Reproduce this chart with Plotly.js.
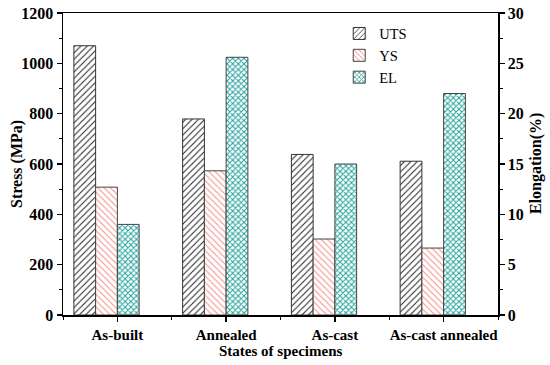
<!DOCTYPE html>
<html>
<head>
<meta charset="utf-8">
<script src="https://cdn.plot.ly/plotly-3.0.1.min.js"></script>
<style>html,body{margin:0;padding:0;background:#fff;}#chart{width:550px;height:365px;}</style>
</head>
<body>
<div id="chart"></div>
<script>
const categories = ["As-built", "Annealed", "As-cast", "As-cast annealed"];
const utsValues = [1070, 779, 638, 611];
const ysValues = [508, 573, 302, 266];
const elValues = [9.0, 25.6, 15.0, 22.0];
const leftTitle = "Stress (MPa)";
const rightTitle = "Elongation(%)";
const xTitle = "States of specimens";

const xIdx = categories.map((c, i) => i);
const fam = "Liberation Serif, Times New Roman, serif";
const legendFont = {family: fam, size: 14.5, color: "#000"};
const tickFont = {family: fam, size: 16, color: "#000", weight: "bold"};
const catFont = {family: fam, size: 15, color: "#000", weight: "bold"};
const titleFont = {family: fam, size: 16, color: "#000", weight: "bold"};

const traces = [
  {type: "bar", name: "UTS", x: xIdx, y: utsValues, width: 0.2, offset: -0.4,
   marker: {color: "#fff", line: {color: "#333", width: 1},
            pattern: {shape: "/", fgcolor: "#222", bgcolor: "#fff", size: 4.5, solidity: 0.22}}},
  {type: "bar", name: "YS", x: xIdx, y: ysValues, width: 0.2, offset: -0.2,
   marker: {color: "#fff", line: {color: "#444", width: 1},
            pattern: {shape: "\\", fgcolor: "#f5958f", bgcolor: "#fff", size: 4.5, solidity: 0.25}}},
  {type: "bar", name: "EL", x: xIdx, y: elValues, width: 0.2, offset: 0, yaxis: "y2",
   marker: {color: "#fff", line: {color: "#444", width: 1},
            pattern: {shape: "x", fgcolor: "#26a39d", bgcolor: "#fff", size: 4, solidity: 0.45}}}
];

const layout = {
  width: 550, height: 365,
  margin: {l: 63, r: 52, t: 13, b: 50},
  paper_bgcolor: "#fff", plot_bgcolor: "#fff",
  barmode: "overlay",
  showlegend: true,
  legend: {x: 0.635, y: 0.985, xanchor: "left", yanchor: "top", bgcolor: "rgba(0,0,0,0)",
           font: legendFont, tracegroupgap: 0, itemwidth: 30},
  xaxis: {range: [-0.5, 3.5], tickvals: xIdx, ticktext: categories, showgrid: false, zeroline: false,
          showline: true, linecolor: "#000", linewidth: 1.5, mirror: true,
          ticks: "outside", ticklen: 5, tickwidth: 1.5, tickcolor: "#000",
          minor: {dtick: 0.5, tick0: -0.5, ticks: "outside", ticklen: 3, tickwidth: 1, tickcolor: "#000"},
          tickfont: catFont},
  yaxis: {range: [0, 1200], dtick: 200, showgrid: false, zeroline: false,
          showline: true, linecolor: "#000", linewidth: 1.5,
          ticks: "outside", ticklen: 5, tickwidth: 1.5, tickcolor: "#000",
          minor: {dtick: 100, ticks: "outside", ticklen: 3, tickwidth: 1, tickcolor: "#000"},
          tickfont: tickFont},
  yaxis2: {range: [0, 30], dtick: 5, overlaying: "y", side: "right", showgrid: false, zeroline: false,
           showline: true, linecolor: "#000", linewidth: 1.5,
           ticks: "outside", ticklen: 5, tickwidth: 1.5, tickcolor: "#000",
           minor: {dtick: 2.5, ticks: "outside", ticklen: 3, tickwidth: 1, tickcolor: "#000"},
           tickfont: tickFont},
  annotations: [
    {text: leftTitle, xref: "paper", yref: "paper", x: 0, y: 0.5, xshift: -46, textangle: -90,
     xanchor: "center", yanchor: "middle", showarrow: false, font: titleFont},
    {text: rightTitle, xref: "paper", yref: "paper", x: 1, y: 0.5, xshift: 38, textangle: -90,
     xanchor: "center", yanchor: "middle", showarrow: false, font: titleFont},
    {text: xTitle, xref: "paper", yref: "paper", x: 0.5, y: 0, yshift: -36,
     xanchor: "center", yanchor: "middle", showarrow: false, font: catFont}
  ]
};

Plotly.newPlot("chart", traces, layout, {displayModeBar: false, staticPlot: true});
</script>
</body>
</html>
